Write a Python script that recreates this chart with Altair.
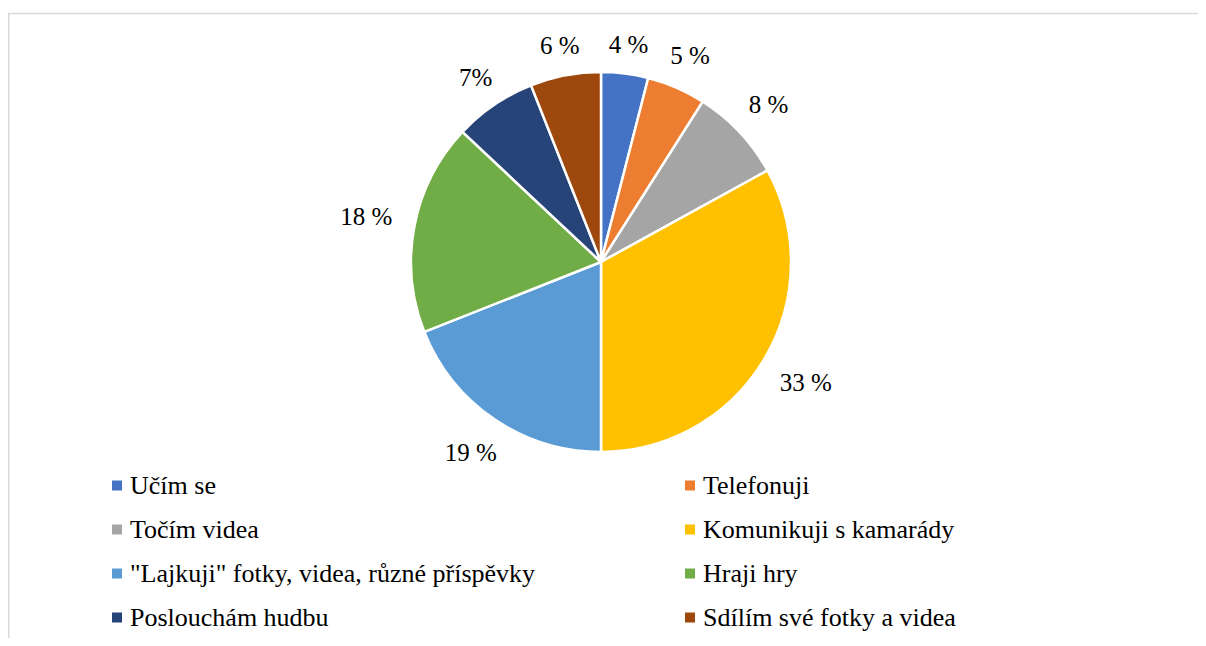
import altair as alt
import pandas as pd

categories = [
    "Učím se",
    "Telefonuji",
    "Točím videa",
    "Komunikuji s kamarády",
    "\"Lajkuji\" fotky, videa, různé příspěvky",
    "Hraji hry",
    "Poslouchám hudbu",
    "Sdílím své fotky a videa",
]
values = [4, 5, 8, 33, 19, 18, 7, 6]
labels = ["4 %", "5 %", "8 %", "33 %", "19 %", "18 %", "7%", "6 %"]
colors = ["#4472C4", "#ED7D31", "#A5A5A5", "#FFC000", "#5B9BD5", "#70AD47", "#264478", "#9E480E"]

df = pd.DataFrame({
    "category": categories,
    "value": values,
    "label": labels,
    "order": list(range(len(categories))),
})

# legend fills column by column; arrange so rows read in pie order
legend_domain = categories[0::2] + categories[1::2]
legend_range = colors[0::2] + colors[1::2]

FONT = "Liberation Serif, Times New Roman, serif"
CX, CY = 593, 254
R = 190

color = alt.Color(
    "category:N",
    scale=alt.Scale(domain=legend_domain, range=legend_range),
    legend=alt.Legend(
        title=None,
        orient="none",
        legendX=96,
        legendY=464.5,
        columns=2,
        columnPadding=141,
        rowPadding=18,
        symbolType="square",
        symbolSize=100,
        symbolStrokeWidth=0,
        labelFont=FONT,
        labelFontSize=26,
        labelColor="#000000",
        labelOffset=0,
        labelLimit=0,
        padding=0,
    ),
)

theta = alt.Theta("value:Q", stack=True)
order = alt.Order("order:Q", sort="ascending")

pie = alt.Chart(df).mark_arc(radius=R, stroke="white", strokeWidth=2.5).encode(
    theta=theta,
    color=color,
    order=order,
    x=alt.value(CX),
    y=alt.value(CY),
)

# label placement: mid-angle of each slice, with a fixed gap between
# the pie edge and the label box
text = (
    alt.Chart(df)
    .transform_window(cum="sum(value)", sort=[alt.SortField("order")], frame=[None, 0])
    .transform_joinaggregate(total="sum(value)")
    .transform_calculate(
        mid="(datum.cum - datum.value / 2) / datum.total * 2 * PI",
    )
    .transform_calculate(
        r=f"{R} + 18 + abs(sin(datum.mid)) * length(datum.label) * 7.5 + abs(cos(datum.mid)) * 8",
    )
    .transform_calculate(
        px=f"{CX} + datum.r * sin(datum.mid)",
        py=f"{CY} - datum.r * cos(datum.mid)",
    )
    .mark_text(font=FONT, fontSize=25, color="#000000", align="center", baseline="middle")
    .encode(
        x=alt.X("px:Q", scale=None),
        y=alt.Y("py:Q", scale=None),
        text="label:N",
    )
)

frame_df = pd.DataFrame({"k": [0]})
top_line = alt.Chart(frame_df).mark_rule(color="#d9d9d9", strokeWidth=1.5).encode(
    x=alt.value(0), x2=alt.value(1190), y=alt.value(5.5)
)
left_line = alt.Chart(frame_df).mark_rule(color="#d9d9d9", strokeWidth=2).encode(
    x=alt.value(0.5), y=alt.value(5), y2=alt.value(630)
)

chart = (
    alt.layer(top_line, left_line, pie, text)
    .properties(
        width=1190,
        height=630,
        padding=0,
        autosize=alt.AutoSizeParams(type="none"),
    )
    .configure_view(stroke=None)
    .configure_legend(labelFont=FONT)
)

chart.save("out.html", embed_options={"renderer": "svg", "actions": False})
